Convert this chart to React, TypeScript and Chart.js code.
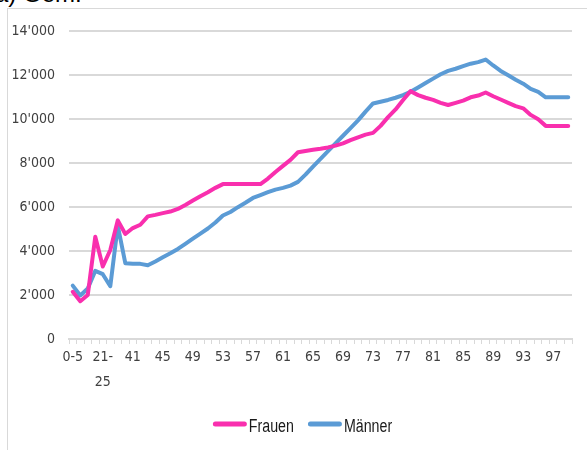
import React, { useEffect, useRef } from "react";
import { Chart, registerables } from "chart.js";

Chart.register(...registerables);

const ageGroups: string[] = ["0-5", "6-10", "11-15", "16-20", "21-25", "26-30", "31-35", "36-40"];
const singleAges: number[] = [];
for (let a = 41; a <= 99; a++) singleAges.push(a);
const categories: string[] = [...ageGroups, ...singleAges.map(String)];

const frauen: number[] = [
  2150, 1720, 2000, 4650, 3300, 4050, 5400, 4780, 5050, 5200,
  5580, 5650, 5730, 5800, 5920, 6100, 6300, 6500, 6680, 6880,
  7050, 7050, 7050, 7050, 7050, 7050, 7300, 7600, 7880, 8150,
  8500, 8560, 8610, 8660, 8720, 8800, 8900, 9050, 9180, 9300,
  9380, 9700, 10100, 10450, 10880, 11280, 11100, 10980, 10880, 10750,
  10650, 10750, 10850, 11000, 11080, 11220, 11050, 10900, 10750, 10600,
  10500, 10200, 10000, 9700, 9700, 9700, 9700,
];

const maenner: number[] = [
  2430, 1980, 2300, 3100, 2950, 2400, 5150, 3450, 3420, 3420,
  3360, 3530, 3720, 3900, 4100, 4330, 4570, 4800, 5030, 5300,
  5620, 5780, 6000, 6200, 6420, 6550, 6680, 6800, 6880, 6980,
  7150, 7480, 7850, 8200, 8550, 8900, 9250, 9600, 9950, 10350,
  10720, 10800, 10880, 10980, 11100, 11250, 11450, 11650, 11850, 12050,
  12200, 12300, 12420, 12530, 12600, 12720, 12450, 12200, 12000, 11800,
  11620, 11380, 11250, 11000, 11000, 11000, 11000,
];

const seriesNames: string[] = ["Frauen", "Männer"];
const yTicks = { min: 0, max: 14000, step: 2000 };

const SANS = "'Liberation Sans', Arial, sans-serif";
const COND = "'DejaVu Sans Condensed', 'Liberation Sans', sans-serif";

function fmt(v: number): string {
  const s = Math.round(v).toString();
  return s.replace(/\B(?=(\d{3})+(?!\d))/g, "'");
}

const lineLegend = {
  id: "lineLegend",
  afterDraw(chart: any) {
    const ctx = chart.ctx as CanvasRenderingContext2D;
    ctx.save();
    ctx.font = `18px ${SANS}`;
    const squeeze = 0.79;
    const items = chart.data.datasets.map((ds: any) => ({
      label: ds.label,
      color: ds.borderColor,
      w: ctx.measureText(ds.label).width * squeeze,
    }));
    const lineLen = 34, gap = 2, itemGap = 14;
    const total =
      items.reduce((s: number, it: any) => s + lineLen + gap + it.w, 0) +
      itemGap * (items.length - 1);
    const centerX = 293.5;
    const yLine = 415;
    const yText = 422.5;
    let x = centerX - total / 2;
    for (const it of items) {
      ctx.strokeStyle = it.color;
      ctx.lineWidth = 5;
      ctx.lineCap = "round";
      ctx.beginPath();
      ctx.moveTo(x + 2.5, yLine);
      ctx.lineTo(x + lineLen - 2.5, yLine);
      ctx.stroke();
      ctx.fillStyle = "#1a1a1a";
      ctx.textBaseline = "alphabetic";
      ctx.textAlign = "left";
      ctx.save();
      ctx.translate(x + lineLen + gap, yText);
      ctx.scale(squeeze, 1);
      ctx.fillText(it.label, 0, 0);
      ctx.restore();
      x += lineLen + gap + it.w + itemGap;
    }
    ctx.restore();
  },
};

export default function App() {
  const ref = useRef<HTMLCanvasElement | null>(null);
  useEffect(() => {
    if (!ref.current) return;
    const chart = new Chart(ref.current, {
      type: "line",
      data: {
        labels: categories,
        datasets: [
          {
            label: seriesNames[0],
            data: frauen,
            borderColor: "#F92FAE",
            backgroundColor: "#F92FAE",
            borderWidth: 4,
            pointRadius: 0,
            tension: 0,
            borderJoinStyle: "round",
            borderCapStyle: "round",
          },
          {
            label: seriesNames[1],
            data: maenner,
            borderColor: "#5B9BD5",
            backgroundColor: "#5B9BD5",
            borderWidth: 4,
            pointRadius: 0,
            tension: 0,
            borderJoinStyle: "round",
            borderCapStyle: "round",
          },
        ],
      },
      options: {
        responsive: false,
        animation: false,
        layout: { padding: { left: 0, right: 15, top: 20, bottom: 51 } },
        plugins: {
          legend: { display: false },
          tooltip: { enabled: false },
          title: { display: false },
        },
        scales: {
          x: {
            type: "category",
            offset: true,
            grid: {
              offset: true,
              drawOnChartArea: false,
              drawTicks: true,
              tickLength: 5,
              color: "#d9d9d9",
              lineWidth: 1,
            },
            border: { display: true, color: "#d9d9d9", width: 2 },
            ticks: {
              autoSkip: false,
              maxRotation: 0,
              minRotation: 0,
              padding: 1,
              color: "#404040",
              font: { family: COND, size: 14, lineHeight: "25px" },
              callback: function (_v: any, i: number) {
                if (i % 4 !== 0) return "";
                const lab = categories[i];
                if (lab.includes("-") && lab !== "0-5") {
                  const [a, b] = lab.split("-");
                  return [a + "-", b];
                }
                return lab;
              },
            },
            afterFit: (scale: any) => {
              scale.height = 60;
            },
          },
          y: {
            min: yTicks.min,
            max: yTicks.max,
            grid: {
              drawTicks: false,
              color: "#d9d9d9",
              lineWidth: 2,
            },
            border: { display: false },
            ticks: {
              stepSize: yTicks.step,
              padding: 14,
              color: "#404040",
              font: { family: COND, size: 14 },
              callback: (v: any) => fmt(Number(v)),
            },
            afterFit: (scale: any) => {
              scale.width = 60;
            },
          },
        },
      },
      plugins: [lineLegend],
    });
    return () => chart.destroy();
  }, []);

  return (
    <div style={{ position: "absolute", left: 0, top: 0, width: 587, height: 450, overflow: "hidden", background: "#fff" }}>
      <div
        style={{
          position: "absolute",
          left: -5,
          top: -18,
          fontFamily: SANS,
          fontSize: 24,
          lineHeight: "24px",
          color: "#000",
          whiteSpace: "nowrap",
        }}
      >
        a) Gem.
      </div>
      <div
        style={{
          position: "absolute",
          left: 7,
          top: 8,
          width: 620,
          height: 470,
          border: "1px solid #d9d9d9",
          boxSizing: "border-box",
        }}
      />
      <canvas ref={ref} width={578} height={441} style={{ position: "absolute", left: 9, top: 9, width: 578, height: 441 }} />
    </div>
  );
}
